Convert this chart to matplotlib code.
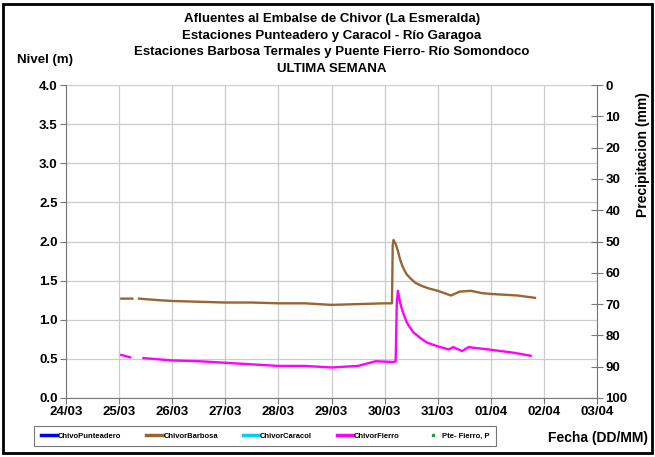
"""Nivel de los afluentes al embalse de Chivor durante la ultima semana."""

import numpy as np
import pandas as pd
import matplotlib
matplotlib.use("Agg")
import matplotlib.pyplot as plt
import matplotlib.dates as mdates
from matplotlib.lines import Line2D
from matplotlib.patches import Rectangle

plt.rcParams["font.family"] = ["Liberation Sans", "DejaVu Sans"]
plt.rcParams["font.weight"] = "bold"

# Barbosa Termales (nivel, m); None marks the gap in the record
BARBOSA_T = ["2024-03-25 01:00", "2024-03-25 06:00", "2024-03-25 07:30",
             "2024-03-25 09:00", "2024-03-25 18:00", "2024-03-26 00:00",
             "2024-03-26 12:00", "2024-03-27 00:00", "2024-03-27 12:00",
             "2024-03-28 00:00", "2024-03-28 12:00", "2024-03-29 00:00",
             "2024-03-29 12:00", "2024-03-30 00:00", "2024-03-30 03:20",
             "2024-03-30 03:40", "2024-03-30 04:00", "2024-03-30 05:00",
             "2024-03-30 06:00", "2024-03-30 07:00", "2024-03-30 08:00",
             "2024-03-30 09:00", "2024-03-30 10:00", "2024-03-30 12:00",
             "2024-03-30 14:00", "2024-03-30 17:00", "2024-03-30 20:00",
             "2024-03-31 00:00", "2024-03-31 06:00", "2024-03-31 10:00",
             "2024-03-31 15:00", "2024-03-31 20:00", "2024-04-01 00:00",
             "2024-04-01 12:00", "2024-04-01 20:00"]
BARBOSA_V = [1.27, 1.27, None, 1.27, 1.25, 1.24, 1.23, 1.22, 1.22, 1.21,
             1.21, 1.19, 1.20, 1.21, 1.21, 1.95, 2.02, 1.97, 1.88, 1.77,
             1.69, 1.63, 1.58, 1.52, 1.47, 1.43, 1.40, 1.37, 1.31, 1.36,
             1.37, 1.34, 1.33, 1.31, 1.28]

# Puente Fierro (nivel, m)
FIERRO_T = ["2024-03-25 01:00", "2024-03-25 05:00", "2024-03-25 08:00",
            "2024-03-25 11:00", "2024-03-26 00:00", "2024-03-26 12:00",
            "2024-03-27 00:00", "2024-03-27 12:00", "2024-03-28 00:00",
            "2024-03-28 12:00", "2024-03-29 00:00", "2024-03-29 12:00",
            "2024-03-29 20:00", "2024-03-30 04:00", "2024-03-30 05:00",
            "2024-03-30 05:30", "2024-03-30 06:00", "2024-03-30 07:00",
            "2024-03-30 08:00", "2024-03-30 09:00", "2024-03-30 10:00",
            "2024-03-30 11:00", "2024-03-30 13:00", "2024-03-30 16:00",
            "2024-03-30 19:00", "2024-03-31 00:00", "2024-03-31 05:00",
            "2024-03-31 07:00", "2024-03-31 11:00", "2024-03-31 14:00",
            "2024-03-31 23:00", "2024-04-01 10:00", "2024-04-01 18:00"]
FIERRO_V = [0.55, 0.52, None, 0.51, 0.48, 0.47, 0.45, 0.43, 0.41, 0.41,
            0.39, 0.41, 0.47, 0.46, 0.47, 1.20, 1.37, 1.22, 1.12, 1.04,
            0.97, 0.92, 0.84, 0.77, 0.71, 0.66, 0.62, 0.65, 0.60, 0.65,
            0.62, 0.58, 0.54]

LEGEND_NAMES = ["ChivoPunteadero", "ChivorBarbosa", "ChivorCaracol",
                "ChivorFierro", "Pte- Fierro, P"]
LEGEND_COLORS = ["#0000ff", "#996633", "#00ccff", "#ff00ff", "#339933"]

TITLE = ("Afluentes al Embalse de Chivor (La Esmeralda)\n"
         "Estaciones Punteadero y Caracol - Río Garagoa\n"
         "Estaciones Barbosa Termales y Puente Fierro- Río Somondoco\n"
         "ULTIMA SEMANA")

BROWN, MAGENTA = "#996633", "#ff00ff"
GRID = "#cccccc"
SPINE = "#777777"


def series(times, values):
    t = pd.to_datetime(times)
    v = np.array([np.nan if x is None else x for x in values], dtype=float)
    return t, v


fig = plt.figure(figsize=(6.55, 4.57), dpi=100)
ax = fig.add_axes([66 / 655, 1 - 398 / 457, (597 - 66) / 655, (398 - 85) / 457])

t, v = series(BARBOSA_T, BARBOSA_V)
ax.plot(t, v, color=BROWN, linewidth=1.7)
t, v = series(FIERRO_T, FIERRO_V)
ax.plot(t, v, color=MAGENTA, linewidth=1.7)

ax.set_xlim(pd.Timestamp("2024-03-24"), pd.Timestamp("2024-04-03"))
ax.set_ylim(0, 4)
ax.set_yticks(np.arange(0, 4.01, 0.5))
ax.yaxis.set_major_formatter(plt.FormatStrFormatter("%.1f"))
ax.xaxis.set_major_locator(mdates.DayLocator())
ax.xaxis.set_major_formatter(mdates.DateFormatter("%d/%m"))
ax.grid(True, color=GRID, linewidth=0.9)
ax.set_axisbelow(True)
for side in ("top", "right"):
    ax.spines[side].set_visible(False)
for side in ("left", "bottom"):
    ax.spines[side].set_color(SPINE)
ax.tick_params(axis="both", labelsize=9.5, length=4, color=SPINE, pad=2)

# precipitation axis, inverted
ax2 = ax.twinx()
ax2.set_ylim(100, 0)
ax2.set_yticks(np.arange(0, 101, 10))
for side in ("top", "left", "bottom"):
    ax2.spines[side].set_visible(False)
ax2.spines["right"].set_color(SPINE)
ax2.tick_params(axis="y", labelsize=9.5, length=8, direction="inout",
                color=SPINE, pad=2)

fig.text(643 / 655, 1 - 155 / 457, "Precipitacion (mm)", rotation=90,
         ha="center", va="center", fontsize=10, fontweight="bold")
fig.text(332 / 655, 1 - 13 / 457, TITLE, ha="center", va="top",
         fontsize=9.5, fontweight="bold", linespacing=1.5)
fig.text(17 / 655, 1 - 60 / 457, "Nivel (m)", ha="left", va="center",
         fontsize=9.5, fontweight="bold")
fig.text(648 / 655, 1 - 438 / 457, "Fecha (DD/MM)", ha="right",
         va="center", fontsize=10, fontweight="bold")

handles = []
for name, color in zip(LEGEND_NAMES, LEGEND_COLORS):
    if name.startswith("Pte"):
        handles.append(Line2D([], [], color=color, marker="s", markersize=2,
                              linestyle="none", label=name))
    else:
        handles.append(Line2D([], [], color=color, linewidth=2.5, label=name))
leg = fig.legend(handles=handles, loc="center", ncol=5,
                 bbox_to_anchor=(265 / 655, 1 - 436 / 457),
                 prop={"size": 5.5, "weight": "bold"}, fancybox=False,
                 edgecolor="#555555", handlelength=2.2, handletextpad=0.1,
                 columnspacing=3.2, borderpad=0.8)
leg.get_frame().set_linewidth(0.8)

# outer frame around the whole chart
fig.add_artist(Rectangle((3 / 655, 4 / 457), 649 / 655, 449 / 457,
                         transform=fig.transFigure, fill=False,
                         edgecolor="black", linewidth=2))

fig.savefig("out.png", dpi=100)
